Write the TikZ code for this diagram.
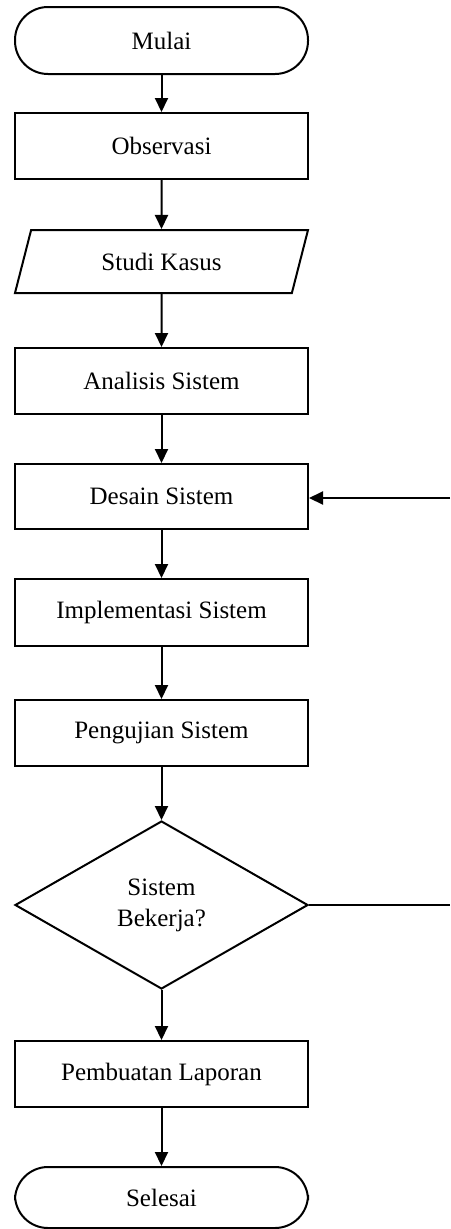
\documentclass[tikz,border=0pt]{standalone}
\usepackage{fontspec}
\setmainfont{Liberation Serif}
\usepackage{tikz}
\usetikzlibrary{positioning, arrows.meta, shapes.geometric}

\tikzset{
    flowline/.style={line width=2pt, -{Triangle[length=14pt, width=13pt]}},
    terminal/.style={draw, line width=2pt, rectangle, rounded corners=33pt,
        minimum width=293pt, inner sep=0pt},
    process/.style={draw, line width=2pt, rectangle,
        minimum width=293pt, minimum height=66pt, inner sep=0pt},
    inputbox/.style={draw, line width=2pt, trapezium, trapezium left angle=47.5,
        trapezium right angle=132.5, trapezium stretches body,
        minimum width=293pt, minimum height=63pt, inner sep=0pt},
    decision/.style={draw, line width=2pt, diamond, align=center,
        minimum width=293pt, minimum height=168pt, inner sep=0pt}
}

\begin{document}
\begin{tikzpicture}[x=1pt, y=-1pt, font=\fontsize{25}{31}\selectfont]
    \useasboundingbox (0,0) rectangle (450,1229);

    % Flow steps
    \node[terminal, minimum height=67pt] (mulai) at (161.5,40.5) {Mulai};
    \node[process] (observasi) at (161.5,146) {Observasi};
    \node[inputbox] (studi) at (161.5,261.5) {Studi Kasus};
    \node[process] (analisis) at (161.5,381) {Analisis Sistem};
    \node[process, minimum height=65pt] (desain) at (161.5,496.5) {Desain Sistem};
    \node[process, minimum height=67pt] (implementasi) at (161.5,612.5) {Implementasi Sistem};
    \node[process] (pengujian) at (161.5,733) {Pengujian Sistem};
    \node[decision] (bekerja) at (161.5,905) {Sistem\\Bekerja?};
    \node[process] (laporan) at (161.5,1074) {Pembuatan Laporan};
    \node[terminal, minimum height=61pt] (selesai) at (161.5,1197.5) {Selesai};

    % Main arrows
    \draw[flowline] (mulai) -- (observasi);
    \draw[flowline] (observasi) -- (studi);
    \draw[flowline] (studi) -- (analisis);
    \draw[flowline] (analisis) -- (desain);
    \draw[flowline] (desain) -- (implementasi);
    \draw[flowline] (implementasi) -- (pengujian);
    \draw[flowline] (pengujian) -- (bekerja);
    \draw[flowline] (bekerja) -- (laporan);
    \draw[flowline] (laporan) -- (selesai);

    % Loop back (cut at the right edge)
    \coordinate (loopout) at (450,905);
    \coordinate (loopin) at (450,498);
    \draw[line width=2pt] (bekerja.east) -- (loopout);
    \draw[flowline] (loopin) -- (loopin -| desain.east);

\end{tikzpicture}
\end{document}
